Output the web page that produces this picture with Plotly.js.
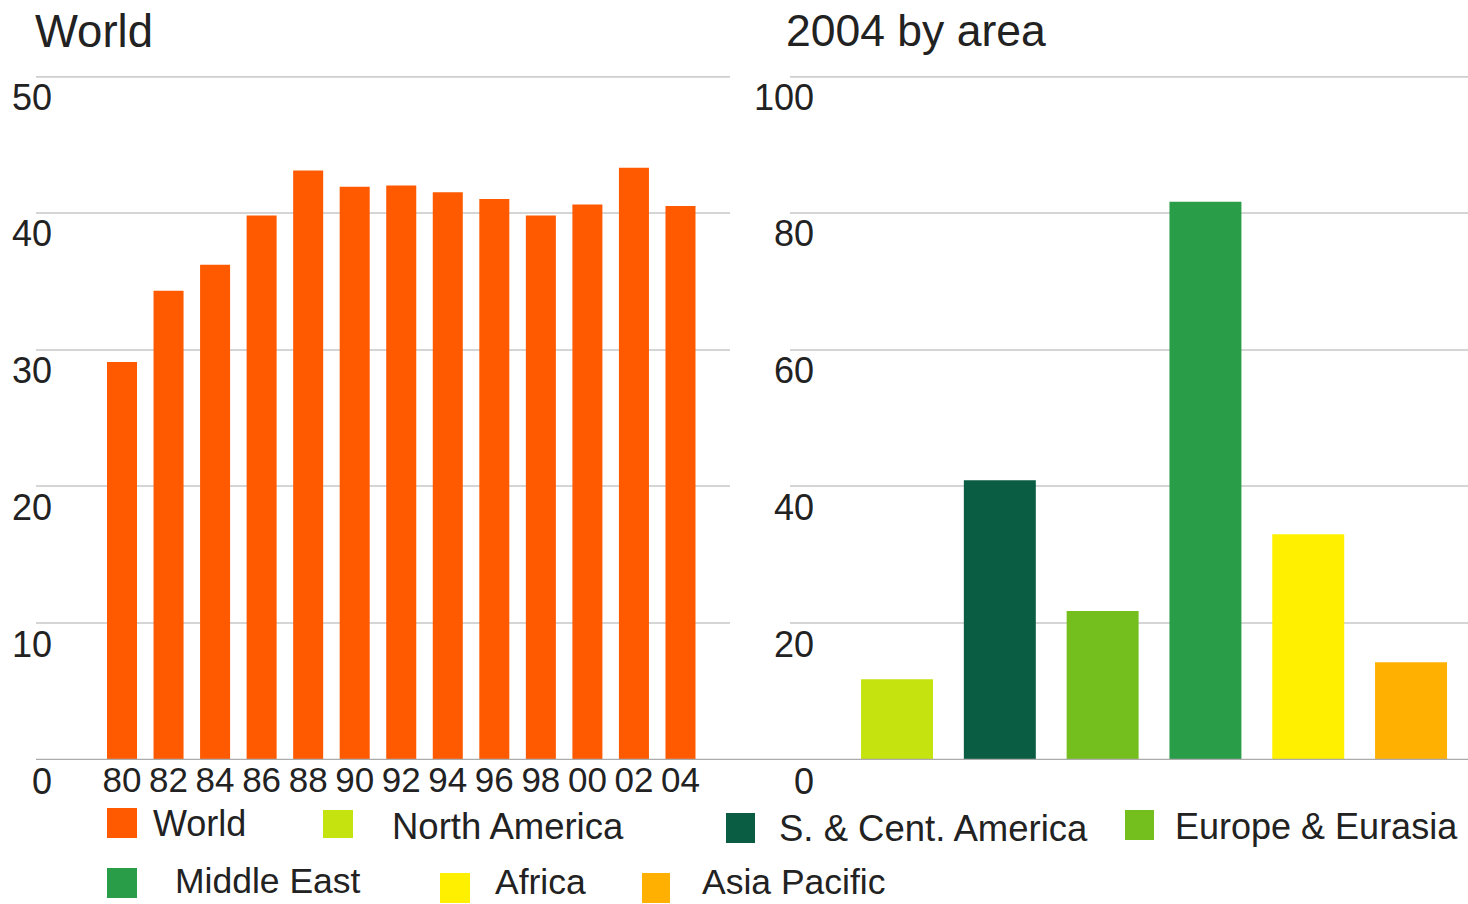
<!DOCTYPE html>
<html><head><meta charset="utf-8">
<script src="https://cdn.plot.ly/plotly-3.0.1.min.js"></script>
<style>html,body{margin:0;padding:0;background:#fff}#chart{width:1468px;height:904px}</style>
</head><body><div id="chart"></div>
<script>
// ---- data ----
const years = ['80','82','84','86','88','90','92','94','96','98','00','02','04'];
const worldRP = [29.1, 34.3, 36.2, 39.8, 43.1, 41.9, 42.0, 41.5, 41.0, 39.8, 40.6, 43.3, 40.5];
const regions = ['North America','S. & Cent. America','Europe & Eurasia','Middle East','Africa','Asia Pacific'];
const regionRP = [11.8, 40.9, 21.8, 81.6, 33.0, 14.3];
const leftTicks = [0, 10, 20, 30, 40, 50];
const rightTicks = [0, 20, 40, 60, 80, 100];
const titles = ['World', '2004 by area'];

// ---- styles ----
const worldColor = '#FF5A00';
const regionColors = ['#C5E30E', '#0A5C42', '#74BE1E', '#2A9D48', '#FFF000', '#FFB000'];
const FONT = '"Liberation Sans", Arial, Helvetica, sans-serif';
const TXT = '#222222';

const W = 1468, H = 904, T = 76, B = 144;
const px = x => x / W;
const py = y => (H - B - y) / (H - T - B);

const traces = [
  {type: 'bar', x: years, y: worldRP, xaxis: 'x', yaxis: 'y', name: 'World',
   marker: {color: worldColor}, showlegend: false, hoverinfo: 'x+y'},
  {type: 'bar', x: regions, y: regionRP, xaxis: 'x2', yaxis: 'y2', name: '2004 by area',
   marker: {color: regionColors}, showlegend: false, hoverinfo: 'x+y', width: 0.7}
];

const annotations = [];
const shapes = [];

// y tick labels (placed below their grid lines, right-aligned)
leftTicks.forEach(v => annotations.push({
  text: String(v), xref: 'paper', x: px(54), xanchor: 'right', yref: 'y', y: v, yshift: -21,
  yanchor: 'middle', showarrow: false, font: {family: FONT, size: 36, color: TXT}
}));
rightTicks.forEach(v => annotations.push({
  text: String(v), xref: 'paper', x: px(816), xanchor: 'right', yref: 'y2', y: v, yshift: -21,
  yanchor: 'middle', showarrow: false, font: {family: FONT, size: 36, color: TXT}
}));

// second panel title
annotations.push({text: titles[1], xref: 'paper', x: px(784), xanchor: 'left', yref: 'paper', y: py(31),
  yanchor: 'middle', showarrow: false, font: {family: FONT, size: 44.5, color: TXT}});

// top lines and continuous zero line
shapes.push({type: 'line', xref: 'x domain', x0: 0, x1: 1, yref: 'y', y0: 50, y1: 50, line: {color: '#cfcfcf', width: 3.5}});
shapes.push({type: 'line', xref: 'x2 domain', x0: 0, x1: 1, yref: 'y2', y0: 100, y1: 100, line: {color: '#cfcfcf', width: 3.5}});
shapes.push({type: 'line', xref: 'paper', x0: px(36), x1: 1, yref: 'y', y0: 0, y1: 0, line: {color: '#ababab', width: 2.5}});

// legend (custom placement to match the reference)
const legendNames = ['World'].concat(regions);
const legendColors = [worldColor].concat(regionColors);
const legendPlace = [
  {b: [107, 137, 808, 838], t: [151, 823], s: 36},
  {b: [323, 353, 810, 838], t: [390, 826], s: 36.5},
  {b: [726, 755, 813, 843], t: [777, 828], s: 36.5},
  {b: [1125, 1154, 810, 840], t: [1173, 826], s: 36},
  {b: [107, 137, 868, 898], t: [173, 881], s: 35.5},
  {b: [440, 470, 873, 903], t: [493, 882], s: 35.5},
  {b: [642, 670, 873, 903], t: [700, 882], s: 35.5}
];
legendNames.forEach((n, i) => {
  const p = legendPlace[i];
  shapes.push({type: 'rect', xref: 'paper', yref: 'paper', x0: px(p.b[0]), x1: px(p.b[1]),
    y0: py(p.b[2]), y1: py(p.b[3]), fillcolor: legendColors[i], line: {width: 0}});
  annotations.push({text: n, xref: 'paper', x: px(p.t[0]), xanchor: 'left', yref: 'paper', y: py(p.t[1]),
    yanchor: 'middle', showarrow: false, font: {family: FONT, size: p.s, color: TXT}});
});

const layout = {
  width: W, height: H,
  margin: {l: 0, r: 0, t: T, b: B, pad: 0},
  paper_bgcolor: '#ffffff', plot_bgcolor: 'rgba(0,0,0,0)',
  font: {family: FONT, color: TXT},
  title: {text: titles[0], x: px(35), xanchor: 'left', xref: 'paper', y: 1 - 31 / H, yanchor: 'middle',
    font: {family: FONT, size: 45.5, color: TXT}},
  bargap: 0.355,
  showlegend: false,
  xaxis: {domain: [px(36), px(730)], type: 'category', range: [-1.848, 13.064],
    anchor: 'free', position: 6 / (H - T - B),
    tickmode: 'array', tickvals: years, ticktext: years, ticks: '', showgrid: false, zeroline: false,
    showline: false, automargin: false, ticklabelstandoff: 2,
    tickfont: {family: FONT, size: 35, color: TXT}, fixedrange: true},
  yaxis: {domain: [0, 1], range: [0, 50], tickmode: 'array', tickvals: [10, 20, 30, 40],
    showticklabels: false, ticks: '', showgrid: true, gridcolor: '#d5d5d5', gridwidth: 2,
    zeroline: false, showline: false, automargin: false, fixedrange: true},
  xaxis2: {domain: [px(790), 1], type: 'category', range: [-1.041, 5.554], anchor: 'y2',
    showticklabels: false, ticks: '', showgrid: false, zeroline: false, showline: false, automargin: false, fixedrange: true},
  yaxis2: {domain: [0, 1], range: [0, 100], anchor: 'x2', tickmode: 'array', tickvals: [20, 40, 60, 80],
    showticklabels: false, ticks: '', showgrid: true, gridcolor: '#d5d5d5', gridwidth: 2,
    zeroline: false, showline: false, automargin: false, fixedrange: true},
  annotations: annotations,
  shapes: shapes
};

Plotly.newPlot('chart', traces, layout, {displayModeBar: false, staticPlot: true});
</script>
</body></html>
